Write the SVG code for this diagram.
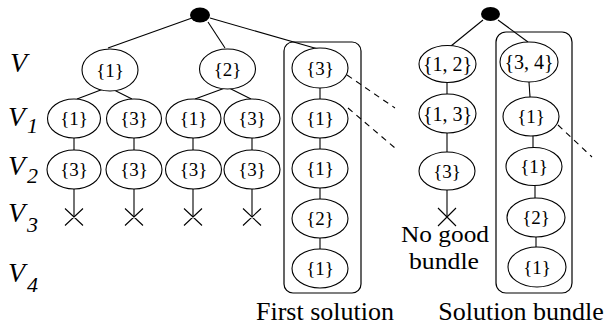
<svg xmlns="http://www.w3.org/2000/svg" width="608" height="329" viewBox="0 0 608 329">
<style>
text{font-family:"Liberation Serif","Times New Roman",Times,serif;fill:#000}
.n{fill:#fff;stroke:#000;stroke-width:1.1}
.t{font-size:19px;text-anchor:middle}
.t2{font-size:20px;text-anchor:middle}
.lbl{font-style:italic;font-size:28px}
.sub{font-style:italic;font-size:22px}
.cap{font-size:26px;text-anchor:middle}
.cap2{font-size:23px;text-anchor:middle}
.e{stroke:#000;stroke-width:1.1;fill:none}
.d{stroke:#000;stroke-width:1.1;fill:none;stroke-dasharray:6 5}
.box{fill:none;stroke:#000;stroke-width:1.2}
</style>
<g id="labels">
<text class="lbl" x="10" y="72">V</text>
<text class="lbl" x="8" y="126">V</text><text class="sub" x="27" y="133">1</text>
<text class="lbl" x="8" y="175">V</text><text class="sub" x="27" y="183">2</text>
<text class="lbl" x="8" y="222">V</text><text class="sub" x="27" y="232">3</text>
<text class="lbl" x="8" y="282">V</text><text class="sub" x="27" y="292">4</text>
</g>
<g id="boxes">
<rect class="box" x="284" y="42" width="77" height="251" rx="9"/>
<rect class="box" x="496" y="32" width="76" height="261" rx="10"/>
</g>
<g id="connectors">
<line class="e" x1="192" y1="18" x2="108" y2="48"/>
<line class="e" x1="208" y1="22" x2="225" y2="48"/>
<line class="e" x1="210" y1="18" x2="318" y2="49"/>
<line class="e" x1="106" y1="88" x2="77" y2="99"/>
<line class="e" x1="110" y1="88" x2="132" y2="99"/>
<line class="e" x1="225" y1="88" x2="195" y2="99"/>
<line class="e" x1="229" y1="88" x2="251" y2="99"/>
<line class="e" x1="74" y1="138" x2="74" y2="150"/>
<line class="e" x1="134" y1="138" x2="134" y2="150"/>
<line class="e" x1="193" y1="138" x2="193" y2="150"/>
<line class="e" x1="252" y1="138" x2="252" y2="150"/>
<line class="e" x1="74" y1="189" x2="74" y2="217"/>
<line class="e" x1="134" y1="189" x2="134" y2="217"/>
<line class="e" x1="193" y1="189" x2="193" y2="217"/>
<line class="e" x1="252" y1="189" x2="252" y2="217"/>
<path class="e" d="M65 208.5L83 225.5M83 208.5L65 225.5M125 208.5L143 225.5M143 208.5L125 225.5M184 208.5L202 225.5M202 208.5L184 225.5M243 208.5L261 225.5M261 208.5L243 225.5"/>
<line class="e" x1="320" y1="88" x2="320" y2="99"/>
<line class="e" x1="320" y1="138" x2="320" y2="149"/>
<line class="e" x1="320" y1="188" x2="320" y2="199"/>
<line class="e" x1="320" y1="238" x2="320" y2="249"/>
<line class="d" x1="347" y1="75" x2="395" y2="108"/>
<line class="d" x1="348" y1="108" x2="395" y2="148"/>
<line class="e" x1="483" y1="20" x2="451" y2="46"/>
<line class="e" x1="498" y1="20" x2="528" y2="42"/>
<line class="e" x1="447" y1="82" x2="447" y2="94"/>
<line class="e" x1="447" y1="133" x2="447" y2="152"/>
<line class="e" x1="447" y1="190" x2="447" y2="217"/>
<path class="e" d="M438 208L456 226M456 208L438 226"/>
<line class="e" x1="529" y1="82" x2="530" y2="97"/>
<line class="e" x1="533" y1="136" x2="533" y2="147"/>
<line class="e" x1="535" y1="185" x2="535" y2="198"/>
<line class="e" x1="536" y1="237" x2="536" y2="247"/>
<line class="d" x1="558" y1="125" x2="592" y2="157"/>
</g>
<g id="root1"><ellipse cx="200" cy="15" rx="10" ry="7.5" fill="#000"/></g>
<g id="root2"><ellipse cx="490.5" cy="14" rx="9.5" ry="7" fill="#000"/></g>
<g id="v-1"><ellipse class="n" cx="110" cy="70" rx="28" ry="21"/><text class="t" x="110" y="76.5">{1}</text></g>
<g id="v-2"><ellipse class="n" cx="227.5" cy="69" rx="28" ry="20"/><text class="t" x="227.5" y="75.5">{2}</text></g>
<g id="v1-a"><ellipse class="n" cx="74" cy="118.5" rx="26.5" ry="19.5"/><text class="t" x="74" y="125">{1}</text></g>
<g id="v1-b"><ellipse class="n" cx="134" cy="118.5" rx="27.5" ry="19.5"/><text class="t" x="134" y="125">{3}</text></g>
<g id="v1-c"><ellipse class="n" cx="193.5" cy="118.5" rx="27.5" ry="19.5"/><text class="t" x="193.5" y="125">{1}</text></g>
<g id="v1-d"><ellipse class="n" cx="252" cy="118.5" rx="28" ry="19.5"/><text class="t" x="252" y="125">{3}</text></g>
<g id="v2-a"><ellipse class="n" cx="74" cy="169.5" rx="27" ry="19.5"/><text class="t" x="74" y="176">{3}</text></g>
<g id="v2-b"><ellipse class="n" cx="134" cy="169.5" rx="28" ry="19.5"/><text class="t" x="134" y="176">{3}</text></g>
<g id="v2-c"><ellipse class="n" cx="193.5" cy="169.5" rx="28" ry="19.5"/><text class="t" x="193.5" y="176">{3}</text></g>
<g id="v2-d"><ellipse class="n" cx="252" cy="169.5" rx="28" ry="19.5"/><text class="t" x="252" y="176">{3}</text></g>
<g id="fs-1"><ellipse class="n" cx="320" cy="68" rx="28" ry="20"/><text class="t" x="320" y="75">{3}</text></g>
<g id="fs-2"><ellipse class="n" cx="320" cy="118.5" rx="28" ry="19.5"/><text class="t" x="320" y="125">{1}</text></g>
<g id="fs-3"><ellipse class="n" cx="320" cy="168.5" rx="28" ry="19.5"/><text class="t" x="320" y="175">{1}</text></g>
<g id="fs-4"><ellipse class="n" cx="320" cy="218.5" rx="28" ry="19.5"/><text class="t" x="320" y="225">{2}</text></g>
<g id="fs-5"><ellipse class="n" cx="320" cy="268.5" rx="28" ry="19.5"/><text class="t" x="320" y="275">{1}</text></g>
<g id="r-12"><ellipse class="n" cx="447.5" cy="64" rx="28.5" ry="18.5"/><text class="t2" x="447.5" y="71">{1, 2}</text></g>
<g id="r-13"><ellipse class="n" cx="447.5" cy="113.5" rx="28.5" ry="19.5"/><text class="t2" x="447.5" y="120.5">{1, 3}</text></g>
<g id="r-3"><ellipse class="n" cx="447" cy="171" rx="28" ry="19"/><text class="t" x="447" y="178">{3}</text></g>
<g id="b-34"><ellipse class="n" cx="529" cy="62" rx="29" ry="20"/><text class="t2" x="529" y="69">{3, 4}</text></g>
<g id="b-1"><ellipse class="n" cx="531" cy="116.5" rx="28" ry="19.5"/><text class="t" x="531" y="123">{1}</text></g>
<g id="b-1b"><ellipse class="n" cx="534" cy="166.5" rx="28" ry="19"/><text class="t" x="534" y="173">{1}</text></g>
<g id="b-2"><ellipse class="n" cx="536" cy="217.5" rx="29" ry="19.5"/><text class="t" x="536" y="224">{2}</text></g>
<g id="b-1c"><ellipse class="n" cx="537" cy="267" rx="29" ry="20"/><text class="t" x="537" y="273.5">{1}</text></g>
<g id="captions">
<text class="cap2" x="445" y="242" textLength="88" lengthAdjust="spacingAndGlyphs">No good</text>
<text class="cap2" x="444" y="269" textLength="70" lengthAdjust="spacingAndGlyphs">bundle</text>
<text class="cap" x="325" y="320">First solution</text>
<text class="cap" x="521" y="320">Solution bundle</text>
</g>
</svg>
